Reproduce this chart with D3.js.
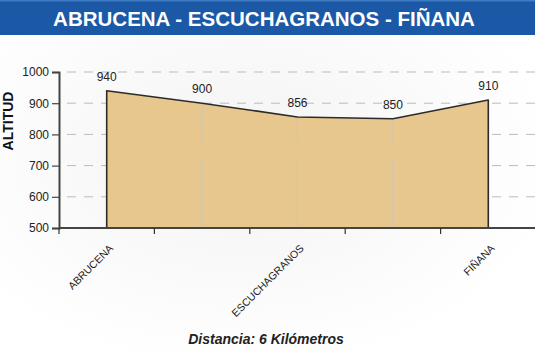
<!DOCTYPE html>
<html>
<head>
<meta charset="utf-8">
<script src="https://cdn.jsdelivr.net/npm/d3@7"></script>
<style>
  body { margin: 0; background: #fff; }
  svg { display: block; font-family: "Liberation Sans", Arial, sans-serif; }
</style>
</head>
<body>
<script>
const width = 535, height = 353;

// route profile
const stations = ["ABRUCENA", "", "ESCUCHAGRANOS", "", "FIÑANA"];
const altitudes = [940, 900, 856, 850, 910];
const yTicks = [500, 600, 700, 800, 900, 1000];
const title = "ABRUCENA - ESCUCHAGRANOS - FIÑANA";
const xTitle = "Distancia: 6 Kilómetros";
const yTitle = "ALTITUD";

const margin = { left: 59, right: -1, top: 72, bottom: 125 };

const svg = d3.select("body")
    .append("svg")
    .attr("width", width)
    .attr("height", height);

const defs = svg.append("defs");
const bg = defs.append("radialGradient")
    .attr("id", "bgGrad")
    .attr("cx", "45%").attr("cy", "45%").attr("r", "60%");
bg.append("stop").attr("offset", "0%").style("stop-color", "#f3f3f3");
bg.append("stop").attr("offset", "100%").style("stop-color", "#ffffff");

svg.append("rect")
    .attr("width", width).attr("height", height)
    .attr("fill", "url(#bgGrad)");

// title bar
svg.append("rect")
    .attr("x", 0).attr("y", 0)
    .attr("width", width).attr("height", 35)
    .attr("fill", "#1b59a6");
svg.append("rect")
    .attr("x", 0).attr("y", 0)
    .attr("width", width).attr("height", 1.5)
    .attr("fill", "#3f7cc4");

svg.append("text")
    .attr("x", 264)
    .attr("y", 25.5)
    .attr("text-anchor", "middle")
    .attr("font-size", "20.5px")
    .attr("font-weight", "bold")
    .attr("fill", "#fff")
    .text(title);

const x = d3.scaleBand()
    .domain(d3.range(stations.length))
    .range([margin.left, width - margin.right]);

const y = d3.scaleLinear()
    .domain([500, 1000])
    .range([height - margin.bottom, margin.top]);

const y0 = y(500);

// dashed horizontal grid (behind the area)
svg.append("g")
    .selectAll("line")
    .data(yTicks.filter(d => d > 500))
    .enter()
    .append("line")
    .attr("x1", margin.left + 8)
    .attr("x2", width)
    .attr("y1", d => y(d))
    .attr("y2", d => y(d))
    .attr("stroke", "#bbb")
    .attr("stroke-width", 1)
    .attr("stroke-dasharray", "9,8");

const cx = i => x(i) + x.bandwidth() / 2;

// area
const area = d3.area()
    .x((d, i) => cx(i))
    .y0(y0)
    .y1(d => y(d));

svg.append("path")
    .datum(altitudes)
    .attr("d", area)
    .attr("fill", "#e8c78f");

// light vertical lines at intermediate points
svg.append("g")
    .selectAll("line")
    .data(altitudes.slice(1, -1))
    .enter()
    .append("line")
    .attr("x1", (d, i) => cx(i + 1))
    .attr("x2", (d, i) => cx(i + 1))
    .attr("y1", y0)
    .attr("y2", d => y(d))
    .attr("stroke", "#cfc6b6")
    .attr("stroke-width", 1.2)
    .attr("stroke-dasharray", "70,16");

// outline: left edge, profile, right edge
const last = altitudes.length - 1;
const outline = [[cx(0), y0]]
    .concat(altitudes.map((d, i) => [cx(i), y(d)]))
    .concat([[cx(last), y0]]);

svg.append("path")
    .attr("d", d3.line()(outline))
    .attr("fill", "none")
    .attr("stroke", "#2b2b2b")
    .attr("stroke-width", 1.6)
    .attr("stroke-linejoin", "round");

// value labels
svg.append("g")
    .selectAll("text")
    .data(altitudes)
    .enter()
    .append("text")
    .attr("x", (d, i) => cx(i))
    .attr("y", d => y(d) - 10)
    .attr("text-anchor", "middle")
    .attr("font-size", "12px")
    .attr("fill", "#222")
    .text(d => d);

// y axis
const yAxis = svg.append("g")
    .attr("transform", `translate(${margin.left},0)`)
    .call(d3.axisLeft(y).tickValues(yTicks).tickFormat(d3.format("d")).tickSize(7).tickPadding(3));
yAxis.select(".domain").attr("stroke", "#444").attr("stroke-width", 2);
yAxis.selectAll(".tick line").attr("stroke", "#444").attr("stroke-width", 1.2);
yAxis.selectAll("text")
    .attr("font-size", "12px")
    .attr("fill", "#222")
    .attr("font-family", "Liberation Sans, Arial, sans-serif");

// x axis: ticks on band boundaries
const xAxisG = svg.append("g");
xAxisG.append("line")
    .attr("x1", margin.left).attr("x2", width)
    .attr("y1", y0).attr("y2", y0)
    .attr("stroke", "#444")
    .attr("stroke-width", 2);
xAxisG.selectAll(".xtick")
    .data(d3.range(stations.length))
    .enter()
    .append("line")
    .attr("class", "xtick")
    .attr("x1", d => x(d)).attr("x2", d => x(d))
    .attr("y1", y0).attr("y2", y0 + 6)
    .attr("stroke", "#333")
    .attr("stroke-width", 1.2);

xAxisG.selectAll(".xlabel")
    .data(stations)
    .enter()
    .append("text")
    .attr("class", "xlabel")
    .attr("text-anchor", "end")
    .attr("font-size", "10.5px")
    .attr("fill", "#222")
    .attr("transform", (d, i) => `translate(${cx(i) + 7},${y0 + 21}) rotate(-45)`)
    .text(d => d);

// axis titles
svg.append("text")
    .attr("transform", "translate(13,121) rotate(-90)")
    .attr("text-anchor", "middle")
    .attr("font-size", "14px")
    .attr("font-weight", "bold")
    .attr("fill", "#111")
    .text(yTitle);

svg.append("text")
    .attr("x", 266)
    .attr("y", 344)
    .attr("text-anchor", "middle")
    .attr("font-size", "14px")
    .attr("font-weight", "bold")
    .attr("font-style", "italic")
    .attr("fill", "#222")
    .text(xTitle);
</script>
</body>
</html>
